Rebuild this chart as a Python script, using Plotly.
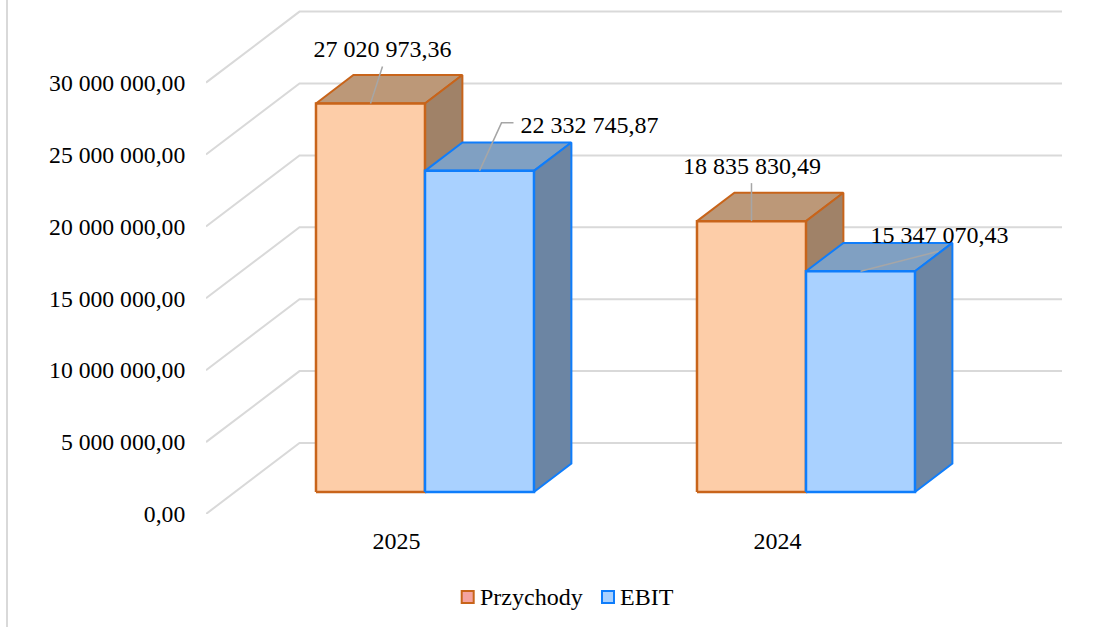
import plotly.graph_objects as go

# ---- data ----
categories = ["2025", "2024"]
series_names = ["Przychody", "EBIT"]
przychody = [27020973.36, 18835830.49]
ebit = [22332745.87, 15347070.43]
tick_values = [0, 5000000, 10000000, 15000000, 20000000, 25000000, 30000000]
tick_labels = ["0,00", "5 000 000,00", "10 000 000,00", "15 000 000,00",
               "20 000 000,00", "25 000 000,00", "30 000 000,00"]
label_przychody = ["27 020 973,36", "18 835 830,49"]
label_ebit = ["22 332 745,87", "15 347 070,43"]

# ---- style / projection ----
FONT = "Liberation Serif"
FS = 24
L, T, R, B = 206, 0, 1062, 514      # plot area in page pixels
BAND = 381.0                        # pixels per category
PX_PER_VALUE = 14.38 / 1e6
DX, DY = 93.5, 71.0                 # oblique depth of the chart box
D0, D1 = 0.31, 0.71                 # depth range occupied by the bars
GAP = 81 / BAND
BW = 109 / BAND
GRID = "#D9D9D9"
LEADER = "#A6A6A6"
ORANGE = dict(front="#FDCDA8", top="#BC9878", side="#A08268", edge="#C8641A", swatch="#F4A3A0")
BLUE = dict(front="#A9D1FF", top="#80A0C2", side="#6C85A3", edge="#0F7DFB", swatch="#A9D1FF")
LEGEND_SWATCH_PX = [467.7, 608]
LEGEND_TEXT_PX = [478, 618]
LEGEND_Y_PX = 597


def px_x(p):
    return p / BAND


def px_y(p):
    return p / PX_PER_VALUE


def paper_x(p):
    return (p - L) / (R - L)


def paper_y(p):
    return (B - p) / (B - T)


def proj(x, v, d):
    return x + px_x(d * DX), v + px_y(d * DY)


def face(points, fill, edge, width=2):
    xs, ys = zip(*points)
    return go.Scatter(x=list(xs) + [xs[0]], y=list(ys) + [ys[0]], mode="lines", fill="toself",
                      fillcolor=fill, line=dict(color=edge, width=width), showlegend=False,
                      hoverinfo="skip", cliponaxis=False)


fig = go.Figure()

# walls: gridlines on the left and back wall
for v in tick_values:
    x0, y0 = proj(0, v, 0)
    x1, y1 = proj(0, v, 1)
    x2 = (R - L) / BAND
    fig.add_trace(go.Scatter(x=[x0, x1, x2], y=[y0, y1, y1], mode="lines",
                             line=dict(color=GRID, width=2), showlegend=False, hoverinfo="skip",
                             cliponaxis=False))

# boxes
anchors = []
for i, cat in enumerate(categories):
    for j, (vals, c) in enumerate(((przychody, ORANGE), (ebit, BLUE))):
        v = vals[i]
        a = i + GAP + j * BW
        b = a + BW
        fig.add_trace(face([proj(a, v, D0), proj(b, v, D0), proj(b, v, D1), proj(a, v, D1)], c["top"], c["edge"], 2))
        fig.add_trace(face([proj(b, 0, D0), proj(b, v, D0), proj(b, v, D1), proj(b, 0, D1)], c["side"], c["edge"], 2))
        fig.add_trace(face([proj(a, 0, D0), proj(b, 0, D0), proj(b, v, D0), proj(a, v, D0)], c["front"], c["edge"], 2.5))
        anchors.append(proj((a + b) / 2, v, D0))

# data labels with leader lines; offsets in pixels from the bar's top-front centre
texts = [label_przychody[0], label_ebit[0], label_przychody[1], label_ebit[1]]
label_offsets = [(12, 52.5), (110, 44), (0.5, 53.5), (79, 34)]
leader_paths = [[(12, 37)], [(22, 48), (34, 48)], [(0, 38)], [(78, 20)]]
for (ax, ay), path in zip(anchors, leader_paths):
    xs = [ax] + [ax + px_x(p[0]) for p in path]
    ys = [ay] + [ay + px_y(p[1]) for p in path]
    fig.add_trace(go.Scatter(x=xs, y=ys, mode="lines", line=dict(color=LEADER, width=1.5),
                             showlegend=False, hoverinfo="skip", cliponaxis=False))
for (ax, ay), off, t in zip(anchors, label_offsets, texts):
    fig.add_trace(go.Scatter(x=[ax + px_x(off[0])], y=[ay + px_y(off[1])], mode="text", text=[t],
                             textposition="middle center", textfont=dict(family=FONT, size=FS, color="#000000"),
                             showlegend=False, hoverinfo="skip", cliponaxis=False))

# legend: swatches and names placed in paper coordinates below the plot
shapes = [dict(type="line", xref="paper", yref="paper", x0=paper_x(7), x1=paper_x(7),
               y0=paper_y(627), y1=1, line=dict(color=GRID, width=2))]
annotations = []
for name, c, sx, tx in zip(series_names, (ORANGE, BLUE), LEGEND_SWATCH_PX, LEGEND_TEXT_PX):
    shapes.append(dict(type="rect", xref="paper", yref="paper",
                       x0=paper_x(sx - 6), x1=paper_x(sx + 6),
                       y0=paper_y(LEGEND_Y_PX + 6), y1=paper_y(LEGEND_Y_PX - 6),
                       fillcolor=c["swatch"], line=dict(color=c["edge"], width=2)))
    annotations.append(dict(xref="paper", yref="paper", x=paper_x(tx), y=paper_y(LEGEND_Y_PX),
                            text=name, showarrow=False, xanchor="left", yanchor="middle",
                            font=dict(family=FONT, size=FS, color="#000000")))

fig.update_layout(
    width=1106, height=627,
    margin=dict(l=L, r=1106 - R, t=T, b=627 - B, pad=0, autoexpand=False),
    paper_bgcolor="white", plot_bgcolor="rgba(0,0,0,0)",
    font=dict(family=FONT, size=FS, color="#000000"),
    showlegend=False,
    xaxis=dict(range=[0, (R - L) / BAND], tickmode="array", tickvals=[k + 0.5 for k in range(len(categories))],
               ticktext=categories, showgrid=False, zeroline=False, showline=False, ticks="outside",
               ticklen=5, tickcolor="rgba(0,0,0,0)"),
    yaxis=dict(range=[0, (B - T) / PX_PER_VALUE], tickmode="array", tickvals=tick_values, ticktext=tick_labels,
               showgrid=False, zeroline=False, showline=False, ticks="outside", ticklen=15,
               tickcolor="rgba(0,0,0,0)", tickfont=dict(family=FONT, size=23.7, color="#000000")),
    shapes=shapes,
    annotations=annotations,
)

fig.write_html("out.html", config={"displayModeBar": False}, post_script="document.body.style.margin='0';")
